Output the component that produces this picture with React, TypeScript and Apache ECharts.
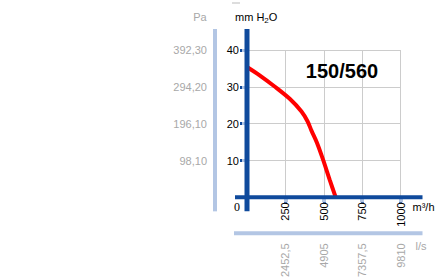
import React, { useEffect, useRef } from "react";
import * as echarts from "echarts";

// ---- data ----
const flow = [0, 80, 180, 280, 355, 395, 420, 455, 495, 540, 578]; // m³/h
const pressure = [35.4, 33.2, 30.1, 26.7, 23.3, 20.6, 18.1, 14.9, 10.3, 4.6, 0]; // mm H2O
const xTicks = [0, 250, 500, 750, 1000];
const lsLabels = ["", "2452,5", "4905", "7357,5", "9810"];
const yTicks = [0, 10, 20, 30, 40];
const paLabels = ["", "98,10", "196,10", "294,20", "392,30"];
const modelName = "150/560";

const DARK = "#0f4a9c";
const LIGHT = "#b3c6e4";
const GRAY = "#a8a8a8";
const FONT = "Liberation Sans";

export default function App() {
  const ref = useRef<HTMLDivElement>(null);
  useEffect(() => {
    if (!ref.current) return;
    const chart = echarts.init(ref.current, undefined, { renderer: "svg" });
    const option: any = {
      animation: false,
      backgroundColor: "#ffffff",
      grid: { left: 247, top: 50, width: 153.5, height: 154.5, containLabel: false },
      xAxis: [
        {
          type: "value",
          min: 0,
          max: 1000,
          interval: 250,
          position: "bottom",
          axisLine: { show: false },
          axisTick: { show: true, length: 6, lineStyle: { color: DARK, width: 3 } },
          axisLabel: {
            rotate: 90,
            margin: 5,
            color: "#000",
            fontSize: 11,
            fontFamily: FONT,
            formatter: (v: number) => (v === 0 ? "" : String(v)),
          },
          splitLine: { show: true, lineStyle: { color: "#cccccc", width: 1 } },
        },
        {
          type: "value",
          min: 0,
          max: 1000,
          interval: 250,
          position: "bottom",
          offset: 36,
          axisLine: { show: false },
          axisTick: { show: true, length: 5, lineStyle: { color: LIGHT, width: 4 } },
          axisLabel: {
            rotate: 90,
            margin: 10,
            color: GRAY,
            fontSize: 11,
            fontFamily: FONT,
            formatter: (v: number) => lsLabels[xTicks.indexOf(v)] ?? "",
          },
          splitLine: { show: false },
        },
      ],
      yAxis: [
        {
          type: "value",
          min: 0,
          max: 40,
          interval: 10,
          position: "left",
          axisLine: { show: false },
          axisTick: { show: true, length: 7, lineStyle: { color: DARK, width: 3 } },
          axisLabel: {
            margin: 8,
            color: "#000",
            fontSize: 11,
            fontFamily: FONT,
            formatter: (v: number) => (v === 0 ? "" : String(v)),
          },
          splitLine: { show: true, lineStyle: { color: "#cccccc", width: 1 } },
        },
        {
          type: "value",
          min: 0,
          max: 40,
          interval: 10,
          position: "left",
          offset: 32,
          axisLine: { show: false },
          axisTick: { show: true, length: 5, lineStyle: { color: LIGHT, width: 3 } },
          axisLabel: {
            margin: 8,
            color: GRAY,
            fontSize: 11,
            fontFamily: FONT,
            formatter: (v: number) => paLabels[yTicks.indexOf(v)] ?? "",
          },
          splitLine: { show: false },
        },
      ],
      series: [
        {
          type: "line",
          xAxisIndex: 0,
          yAxisIndex: 0,
          data: flow.map((f, i) => [f, pressure[i]]),
          smooth: 0.3,
          showSymbol: false,
          lineStyle: { color: "#ff0000", width: 4 },
          z: 5,
        },
      ],
    };
    chart.setOption(option);

    const o = chart.convertToPixel({ xAxisIndex: 0, yAxisIndex: 0 }, [0, 0]) as number[];
    const tr = chart.convertToPixel({ xAxisIndex: 0, yAxisIndex: 0 }, [1000, 40]) as number[];
    const yTop = tr[1] - 21;
    const yBot = o[1] + 14;
    const xLeft = o[0] - 12;
    const xRight = tr[0] + 22;
    chart.setOption({
      graphic: [
        { type: "line", shape: { x1: o[0], y1: yTop, x2: o[0], y2: yBot }, style: { stroke: DARK, lineWidth: 5 }, z: 10 },
        { type: "line", shape: { x1: xLeft, y1: o[1], x2: xRight, y2: o[1] }, style: { stroke: DARK, lineWidth: 4 }, z: 10 },
        { type: "line", shape: { x1: o[0] - 32, y1: yTop, x2: o[0] - 32, y2: yBot }, style: { stroke: LIGHT, lineWidth: 4 }, z: 10 },
        { type: "line", shape: { x1: xLeft - 1, y1: o[1] + 36, x2: xRight, y2: o[1] + 36 }, style: { stroke: LIGHT, lineWidth: 4 }, z: 10 },
        { type: "line", shape: { x1: 232, y1: 3, x2: 240, y2: 3 }, style: { stroke: "#bbbbbb", lineWidth: 1 } },
        {
          type: "text",
          x: 200,
          y: 17,
          style: { text: "Pa", fill: GRAY, font: `11px '${FONT}'`, align: "center", verticalAlign: "middle" },
        },
        {
          type: "text",
          x: 235,
          y: 17,
          style: {
            text: "{a|mm H}{s|2}{a|O}",
            align: "left",
            verticalAlign: "middle",
            rich: {
              a: { fontSize: 11, fontFamily: FONT, fill: "#000", color: "#000" },
              s: { fontSize: 8, fontFamily: FONT, fill: "#000", color: "#000", padding: [6, 0, 0, 0] },
            },
          },
        },
        {
          type: "text",
          x: o[0] - 10,
          y: o[1] + 10,
          style: { text: "0", fill: "#000", font: "12px 'Liberation Serif'", align: "center", verticalAlign: "middle" },
        },
        {
          type: "text",
          x: xRight - 10,
          y: o[1] + 10,
          style: { text: "m³/h", fill: "#000", font: `11px '${FONT}'`, align: "left", verticalAlign: "middle" },
        },
        {
          type: "text",
          x: xRight - 7,
          y: o[1] + 49,
          style: { text: "l/s", fill: GRAY, font: `11px '${FONT}'`, align: "left", verticalAlign: "middle" },
        },
        {
          type: "text",
          x: 342,
          y: 71,
          style: { text: modelName, fill: "#000", font: `bold 20px '${FONT}'`, align: "center", verticalAlign: "middle" },
        },
      ],
    });
    return () => chart.dispose();
  }, []);
  return (
    <div
      ref={ref}
      style={{ position: "fixed", left: 0, top: 0, width: 438, height: 280, background: "#fff" }}
    />
  );
}
